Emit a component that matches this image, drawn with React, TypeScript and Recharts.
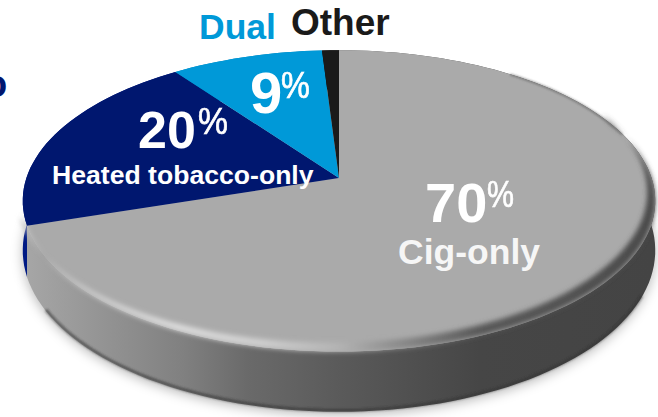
import { PieChart, Pie } from 'recharts';

const categories = ['Cig-only', 'Heated tobacco-only', 'Dual', 'Other'];
const shares = [70, 20, 9, 1];
const sliceColors = ['#aaaaaa', '#00176f', '#0099d8', '#1a1a1a'];
const wallColors = ['url(#wallGrey)', '#001a84', '#0080b8', '#111111'];

const data = categories.map((name, i) => ({ name, value: shares[i] }));

// the pie is tilted with some perspective, so the circle from the library gets projected
const TILT = 0.152;
const SQUASH = 0.471;
const WALL_DROP = 48;
const WALL_SQUASH = 0.504;
const BEVEL_X = 8;
const BEVEL_Y = 9;

function project(props: any, angle: number, squash: number, drop: number, shift = 0) {
  const a = (angle * Math.PI) / 180;
  const u = Math.cos(a);
  const v = Math.sin(a);
  const w = 1 + TILT * v;
  return [
    props.cx - shift + (props.outerRadius * u) / w,
    props.cy + drop - (props.outerRadius * squash * v) / w,
  ];
}

function arcPoints(props: any, from: number, to: number, squash: number, drop: number, shift = 0) {
  const steps = Math.max(2, Math.ceil(Math.abs(to - from) / 2));
  const pts: number[][] = [];
  for (let i = 0; i <= steps; i++) {
    pts.push(project(props, from + ((to - from) * i) / steps, squash, drop, shift));
  }
  return pts;
}

const toPath = (pts: number[][]) =>
  pts.map((p, i) => `${i === 0 ? 'M' : 'L'}${p[0].toFixed(1)} ${p[1].toFixed(1)}`).join(' ');

function sweep(props: any) {
  const top = arcPoints(props, props.startAngle, props.endAngle, SQUASH, 0);
  const bottom = arcPoints(props, props.endAngle, props.startAngle, WALL_SQUASH, WALL_DROP);
  return toPath([...top, ...bottom]) + ' Z';
}

// shadow comes from the bottom of the wall only, so nothing shows above the pie
function ShadowSlice(props: any) {
  const apex = [props.cx, props.cy + WALL_DROP + 3];
  const arc = arcPoints(props, props.startAngle, props.endAngle, WALL_SQUASH, WALL_DROP + 3);
  return <path d={toPath([apex, ...arc]) + ' Z'} fill="#000000" fillOpacity={0.28} filter="url(#softShadow)" />;
}

function WallSlice(props: any) {
  return (
    <g>
      <path d={sweep(props)} fill={wallColors[props.index]} />
      {props.index === 0 && (
        <path
          d={toPath(arcPoints(props, -150, -25, WALL_SQUASH, WALL_DROP - 1.5))}
          fill="none"
          stroke="#333333"
          strokeOpacity={0.6}
          strokeWidth={3}
          filter="url(#rimBlurSmall)"
        />
      )}
    </g>
  );
}

function FaceSlice(props: any) {
  const apex = [props.cx, props.cy];
  const arc = arcPoints(props, props.startAngle, props.endAngle, SQUASH, 0);
  if (props.index !== 0) {
    return <path d={toPath([apex, ...arc]) + ' Z'} fill={sliceColors[props.index]} />;
  }
  // bevel along the front rim: crescent between the edge and the same edge moved up and left
  const outer = arcPoints(props, 23, -162, SQUASH, 0);
  const inner = arcPoints(props, -162, 23, SQUASH, -BEVEL_Y, BEVEL_X);
  return (
    <g>
      <path d={toPath([apex, ...arc]) + ' Z'} fill={sliceColors[0]} />
      <path d={toPath([...outer, ...inner]) + ' Z'} fill="url(#rimFill)" filter="url(#rimBlur)" />
      <path
        d={toPath(arcPoints(props, 52, 18, SQUASH, 0, 0.8))}
        fill="none"
        stroke="#555555"
        strokeOpacity={0.7}
        strokeWidth={1.6}
        filter="url(#rimBlurSmall)"
      />
    </g>
  );
}

const txt = (
  text: string,
  left: number,
  base: number,
  size: number,
  color = '#ffffff',
  weight = 700,
  stretch = 1,
) => (
  <div
    style={{
      position: 'absolute',
      left,
      top: base - size * 0.8465,
      fontFamily: '"Liberation Sans", Arial, sans-serif',
      fontWeight: weight,
      fontSize: size,
      lineHeight: 1,
      color,
      whiteSpace: 'nowrap',
      transform: `scaleX(${stretch})`,
      transformOrigin: 'left center',
      WebkitTextStroke: weight === 400 ? `0.7px ${color}` : undefined,
    }}
  >
    {text}
  </div>
);

export default function App() {
  const pieProps = {
    data,
    dataKey: 'value',
    nameKey: 'name',
    cx: 339,
    cy: 178,
    outerRadius: 312.6,
    startAngle: 90,
    endAngle: -270,
    stroke: 'none',
    isAnimationActive: false,
  };
  return (
    <div style={{ position: 'absolute', left: 0, top: 0, width: 658, height: 417, overflow: 'hidden', background: '#fff' }}>
      <PieChart width={658} height={417} margin={{ top: 0, right: 0, bottom: 0, left: 0 }}>
        <defs>
          <linearGradient id="wallGrey" x1="0" y1="0" x2="1" y2="0">
            <stop offset="0%" stopColor="#a6a6a6" />
            <stop offset="25%" stopColor="#808080" />
            <stop offset="35%" stopColor="#6a6a6a" />
            <stop offset="50%" stopColor="#5a5a5a" />
            <stop offset="72%" stopColor="#464646" />
            <stop offset="100%" stopColor="#444444" />
          </linearGradient>
          <linearGradient id="rimFill" x1="0" y1="0" x2="1" y2="0">
            <stop offset="0%" stopColor="#c4c4c4" />
            <stop offset="25%" stopColor="#dedede" />
            <stop offset="38%" stopColor="#cfcfcf" />
            <stop offset="50%" stopColor="#b4b4b4" />
            <stop offset="60%" stopColor="#8a8a8a" />
            <stop offset="72%" stopColor="#5a5a5a" />
            <stop offset="100%" stopColor="#4a4a4a" />
          </linearGradient>
          <filter id="softShadow" filterUnits="userSpaceOnUse" x="-40" y="-40" width="740" height="500">
            <feGaussianBlur stdDeviation="6" />
          </filter>
          <filter id="rimBlur" filterUnits="userSpaceOnUse" x="-40" y="-40" width="740" height="500">
            <feGaussianBlur stdDeviation="2.6" />
          </filter>
          <filter id="rimBlurSmall" filterUnits="userSpaceOnUse" x="-40" y="-40" width="740" height="500">
            <feGaussianBlur stdDeviation="1.2" />
          </filter>
        </defs>
        <Pie {...pieProps} shape={ShadowSlice} />
        <Pie {...pieProps} shape={WallSlice} />
        <Pie {...pieProps} shape={FaceSlice} />
      </PieChart>

      {txt('o', -16, 97, 38, '#00176f')}
      {txt(categories[2], 199, 40, 35.5, '#0099d8')}
      {txt(categories[3], 291, 35, 37, '#1a1a1a')}

      {txt(String(shares[2]), 250, 113, 58)}
      {txt('%', 281, 98, 36, '#ffffff', 400, 0.9)}

      {txt(String(shares[1]), 138, 148, 52)}
      {txt('%', 198, 134, 37, '#ffffff', 400, 0.91)}
      {txt(categories[1], 52, 185, 26.6)}

      {txt(String(shares[0]), 425, 222, 56)}
      {txt('%', 487, 207, 37, '#ffffff', 400, 0.82)}
      {txt(categories[0], 398, 265, 35.5, '#f6f6f6')}
    </div>
  );
}
